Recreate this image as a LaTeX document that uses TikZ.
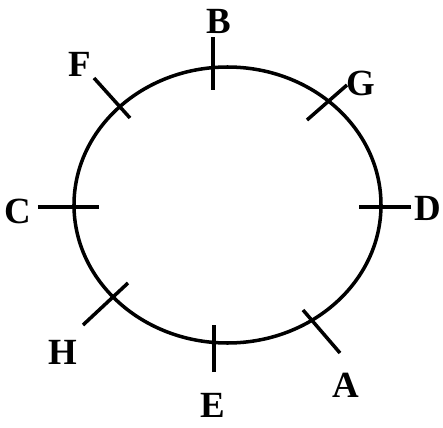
\documentclass[tikz,border=0pt]{standalone}
\usepackage{fontspec}
\setmainfont{Liberation Serif}
\usetikzlibrary{positioning}
\tikzset{
  % The round table
  ring/.style={draw=black,line width=2pt},
  % Seat marks across the ring
  seat/.style={draw=black,line width=2pt},
  % Seat letters
  who/.style={font=\fontsize{21}{24}\selectfont\bfseries,inner sep=0pt}
}

\begin{document}
\begin{tikzpicture}
  \useasboundingbox (-4.55,-4.44) rectangle (4.31,4.10);

  % Table
  \draw[ring] (0,0) ellipse (3.07 and 2.76);

  % Seat mark ends
  \coordinate (b1) at (-0.29,3.36);  \coordinate (b2) at (-0.29,2.30);
  \coordinate (g1) at (2.39,2.40);   \coordinate (g2) at (1.59,1.70);
  \coordinate (d1) at (3.67,-0.04);  \coordinate (d2) at (2.63,-0.04);
  \coordinate (a1) at (2.25,-2.96);  \coordinate (a2) at (1.51,-2.10);
  \coordinate (e1) at (-0.27,-3.34); \coordinate (e2) at (-0.27,-2.40);
  \coordinate (h1) at (-2.89,-2.40); \coordinate (h2) at (-1.99,-1.56);
  \coordinate (c1) at (-3.79,-0.04); \coordinate (c2) at (-2.57,-0.04);
  \coordinate (f1) at (-2.67,2.54);  \coordinate (f2) at (-1.95,1.74);

  % Seat letters
  \node[who] (pb) at (-0.17,3.67)  {B};
  \node[who] (pg) at (2.67,2.43)   {G};
  \node[who] (pd) at (4.01,-0.06)  {D};
  \node[who] (pa) at (2.37,-3.60)  {A};
  \node[who] (pe) at (-0.29,-4.01) {E};
  \node[who] (ph) at (-3.29,-2.94) {H};
  \node[who] (pc) at (-4.20,-0.12) {C};
  \node[who] (pf) at (-2.95,2.82)  {F};

  % Seat marks
  \foreach \s in {b,g,d,a,e,h,c,f}
    \draw[seat] (\s1) -- (\s2);
\end{tikzpicture}
\end{document}
